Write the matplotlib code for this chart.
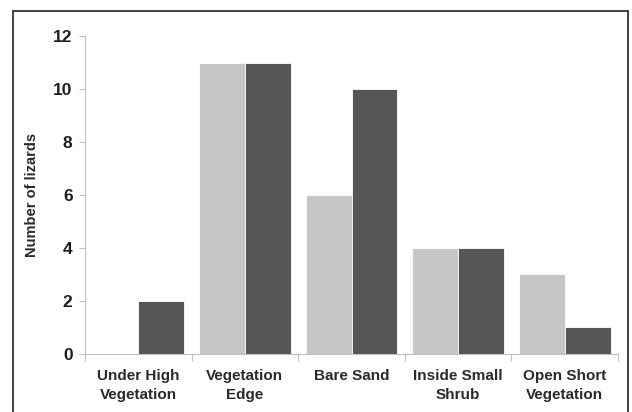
import matplotlib.pyplot as plt
import numpy as np
from matplotlib.patches import Rectangle

plt.rcParams['font.family'] = ['Liberation Sans', 'DejaVu Sans']

# données
categories = ['Under High\nVegetation', 'Vegetation\nEdge', 'Bare Sand',
              'Inside Small\nShrub', 'Open Short\nVegetation']
serie_claire = [0, 11, 6, 4, 3]
serie_foncee = [2, 11, 10, 4, 1]
yticks = [0, 2, 4, 6, 8, 10, 12]

fig = plt.figure(figsize=(6.32, 4.12), dpi=100)
ax = fig.add_axes([0.1345, 0.1408, 0.8435, 0.7718])

x = np.arange(len(categories))
largeur = 0.43
ax.bar(x - largeur / 2, serie_claire, largeur, color='#c6c6c8',
       edgecolor='white', linewidth=0.6)
ax.bar(x + largeur / 2, serie_foncee, largeur, color='#565658',
       edgecolor='white', linewidth=0.6)

ax.set_xlim(-0.5, len(categories) - 0.5)
ax.set_ylim(0, 12)
ax.set_yticks(yticks)
ax.set_yticklabels([str(v) for v in yticks], fontsize=12.5, fontweight='bold')

# graduations x entre les catégories, étiquettes au centre
ax.set_xticks(np.arange(len(categories) + 1) - 0.5)
ax.set_xticklabels([])
ax.set_xticks(x, minor=True)
ax.set_xticklabels(categories, minor=True, fontsize=11, fontweight='bold',
                   color='#2a2a2a', linespacing=1.4)
ax.tick_params(axis='x', which='minor', length=0, pad=11)
ax.tick_params(axis='x', which='major', length=5, color='#c0c0c0')
ax.tick_params(axis='y', length=4, color='#c0c0c0', pad=5,
               labelcolor='#1e1e1e')

for cote in ['top', 'right']:
    ax.spines[cote].set_visible(False)
for cote in ['left', 'bottom']:
    ax.spines[cote].set_color('#c0c0c0')
    ax.spines[cote].set_linewidth(0.8)

ax.set_ylabel('Number of lizards', fontsize=10.5, fontweight='bold',
              color='#2a2a2a', labelpad=10)

# cadre autour de la figure (coupé en bas)
fig.patches.append(Rectangle((13 / 632, -0.05), 615 / 632, 1 - 11 / 412 + 0.05,
                             transform=fig.transFigure, fill=False,
                             edgecolor='#333333', linewidth=1.3))

plt.savefig('out.png', dpi=100, facecolor='white')
plt.close()
